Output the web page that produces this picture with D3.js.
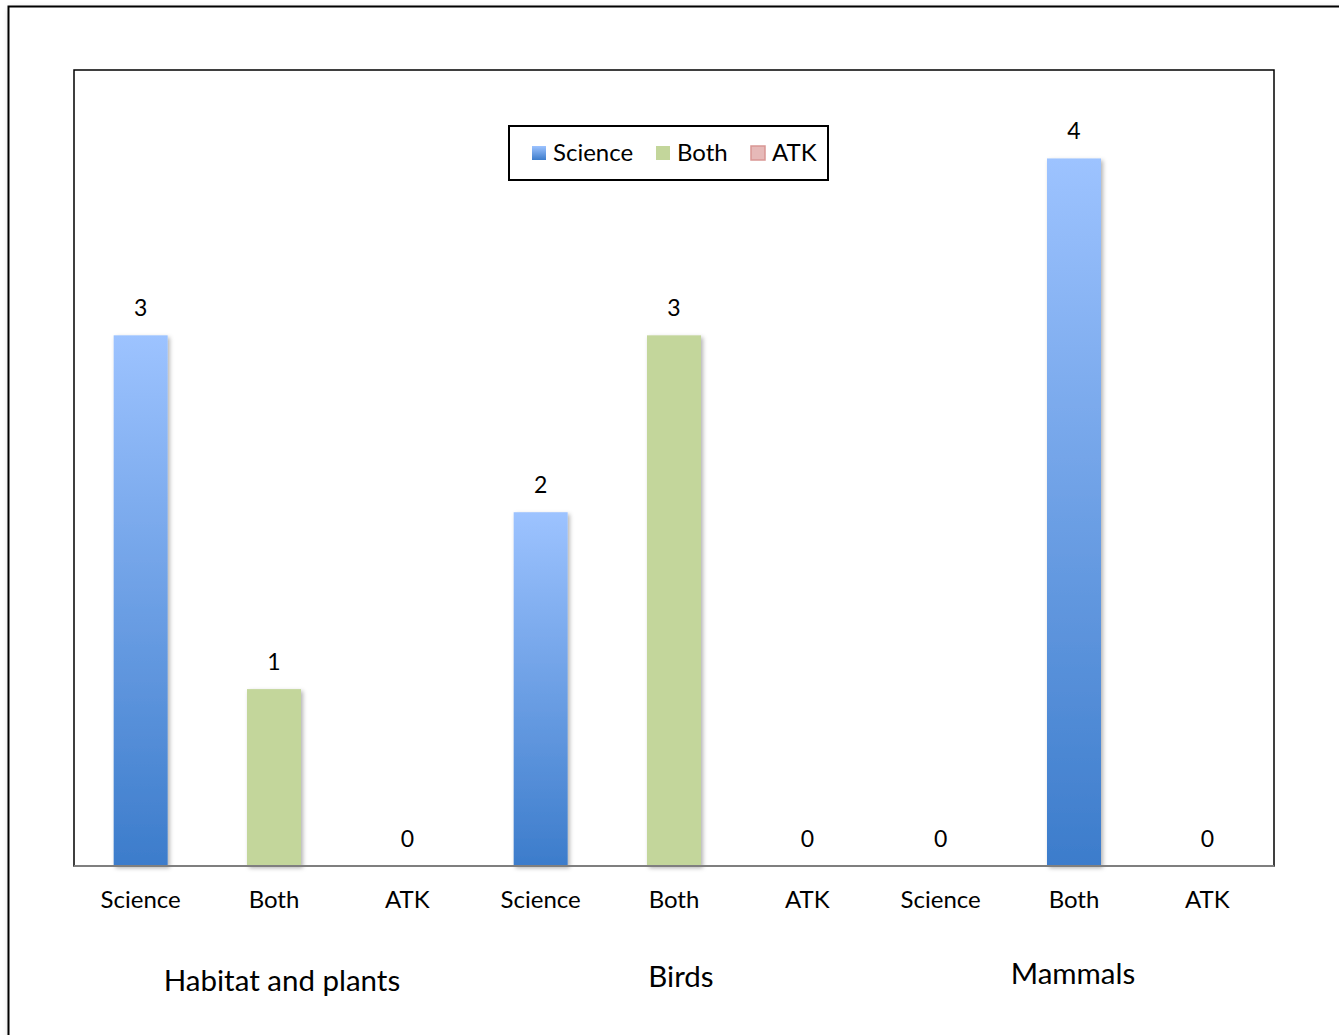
<!DOCTYPE html>
<html>
<head>
<meta charset="utf-8">
<script src="https://cdn.jsdelivr.net/npm/d3@7"></script>
<style>
  html, body { margin: 0; padding: 0; background: #fff; }
  svg { display: block; font-family: Lato, "Open Sans", sans-serif; }
</style>
</head>
<body>
<svg></svg>
<script>
var width = 1339
var height = 1035
var margin = ({top: 70, right: 65, bottom: 169, left: 74})

// data
var bars = ["Science", "Both", "ATK", "Science", "Both", "ATK", "Science", "Both", "ATK"]
var values = [3, 1, 0, 2, 3, 0, 0, 4, 0]
// which legend colour each bar is painted with (the Mammals "Both" bar is blue in the source)
var fillKey = ["Science", "Both", "ATK", "Science", "Both", "ATK", "Science", "Science", "ATK"]
var groups = ["Habitat and plants", "Birds", "Mammals"]
var groupLabelDy = [0, -4, -7]
var legendItems = ["Science", "Both", "ATK"]

var ids = bars.map((d, i) => i)

var x = d3.scaleBand()
    .domain(ids)
    .range([margin.left, width - margin.right])
    .paddingInner(0.595)
    .paddingOuter(0.2975)
var y = d3.scaleLinear()
    .domain([0, 4.5])
    .range([height - margin.bottom, margin.top])

const svg = d3.select("svg")
    .attr("width", width)
    .attr("height", height)
    .attr("viewBox", [0, 0, width, height]);

const defs = svg.append("defs");

var grad = defs.append("linearGradient")
    .attr("id", "sciGrad")
    .attr("x1", 0).attr("y1", 0).attr("x2", 0).attr("y2", 1);
grad.append("stop").attr("offset", "0%").attr("stop-color", "#9dc3ff");
grad.append("stop").attr("offset", "100%").attr("stop-color", "#3c7ccb");

var shadow = defs.append("filter")
    .attr("id", "shadow")
    .attr("x", "-20%").attr("y", "-20%").attr("width", "150%").attr("height", "150%");
shadow.append("feDropShadow")
    .attr("dx", 2).attr("dy", 2).attr("stdDeviation", 2)
    .attr("flood-color", "#000").attr("flood-opacity", 0.3);

var frameShadow = defs.append("filter")
    .attr("id", "frameShadow")
    .attr("x", "-5%").attr("y", "-5%").attr("width", "110%").attr("height", "110%");
frameShadow.append("feDropShadow")
    .attr("dx", 2).attr("dy", 3).attr("stdDeviation", 3)
    .attr("flood-color", "#000").attr("flood-opacity", 0.25);

var fills = {Science: "url(#sciGrad)", Both: "#c3d69b", ATK: "#e6b9b8"}

// outer frame (runs off the right and bottom edge)
svg.append("rect")
    .attr("x", 8.5).attr("y", 6.5)
    .attr("width", width + 20).attr("height", height + 20)
    .attr("fill", "#fff")
    .attr("stroke", "#000")
    .attr("stroke-width", 2)
    .attr("filter", "url(#frameShadow)");

// plot area
svg.append("rect")
    .attr("x", margin.left).attr("y", margin.top)
    .attr("width", width - margin.right - margin.left)
    .attr("height", height - margin.bottom - margin.top)
    .attr("fill", "#fff")
    .attr("stroke", "#000")
    .attr("stroke-width", 1.5);

// bars
svg.append("g")
    .selectAll("rect")
    .data(ids)
    .enter().append("rect")
    .attr("x", i => x(i))
    .attr("y", i => y(values[i]))
    .attr("width", x.bandwidth())
    .attr("height", i => y(0) - y(values[i]))
    .attr("fill", i => fills[fillKey[i]])
    .attr("filter", i => values[i] > 0 ? "url(#shadow)" : null);

// baseline
svg.append("line")
    .attr("x1", margin.left).attr("x2", width - margin.right)
    .attr("y1", y(0)).attr("y2", y(0))
    .attr("stroke", "#7f7f7f")
    .attr("stroke-width", 2);

// value labels
svg.append("g")
    .attr("font-size", 23)
    .attr("text-anchor", "middle")
    .selectAll("text")
    .data(ids)
    .enter().append("text")
    .attr("x", i => x(i) + x.bandwidth() / 2)
    .attr("y", i => y(values[i]) - 19)
    .text(i => values[i]);

// category axis
var xAxis = g => g
    .attr("transform", `translate(0,${y(0)})`)
    .call(d3.axisBottom(x).tickSize(0).tickPadding(25).tickFormat(i => bars[i]))
    .call(g => g.select(".domain").remove())
    .call(g => g.selectAll("text")
        .attr("font-size", 24)
        .attr("font-family", "Lato, 'Open Sans', sans-serif")
        .attr("fill", "#000"))
svg.append("g").call(xAxis);

// group labels
svg.append("g")
    .attr("font-size", 29.5)
    .attr("text-anchor", "middle")
    .selectAll("text")
    .data(groups)
    .enter().append("text")
    .attr("x", (d, k) => (x(k * 3) + x(k * 3 + 2) + x.bandwidth()) / 2 + [8, 7, -1][k])
    .attr("y", (d, k) => 991 + groupLabelDy[k])
    .text(d => d);

// legend
var legend = svg.append("g").attr("transform", "translate(509,126)");
legend.append("rect")
    .attr("width", 319).attr("height", 54)
    .attr("fill", "#fff")
    .attr("stroke", "#000")
    .attr("stroke-width", 2);
var legendX = [23, 147, 242]
var item = legend.selectAll("g.item")
    .data(legendItems)
    .enter().append("g")
    .attr("class", "item")
    .attr("transform", (d, k) => `translate(${legendX[k]},20)`);
item.append("rect")
    .attr("width", 14).attr("height", 14)
    .attr("fill", d => fills[d])
    .attr("stroke", d => d === "ATK" ? "#d99694" : "none")
    .attr("stroke-width", 1.5);
item.append("text")
    .attr("x", 21).attr("y", 15)
    .attr("font-size", 24)
    .text(d => d);
</script>
</body>
</html>
